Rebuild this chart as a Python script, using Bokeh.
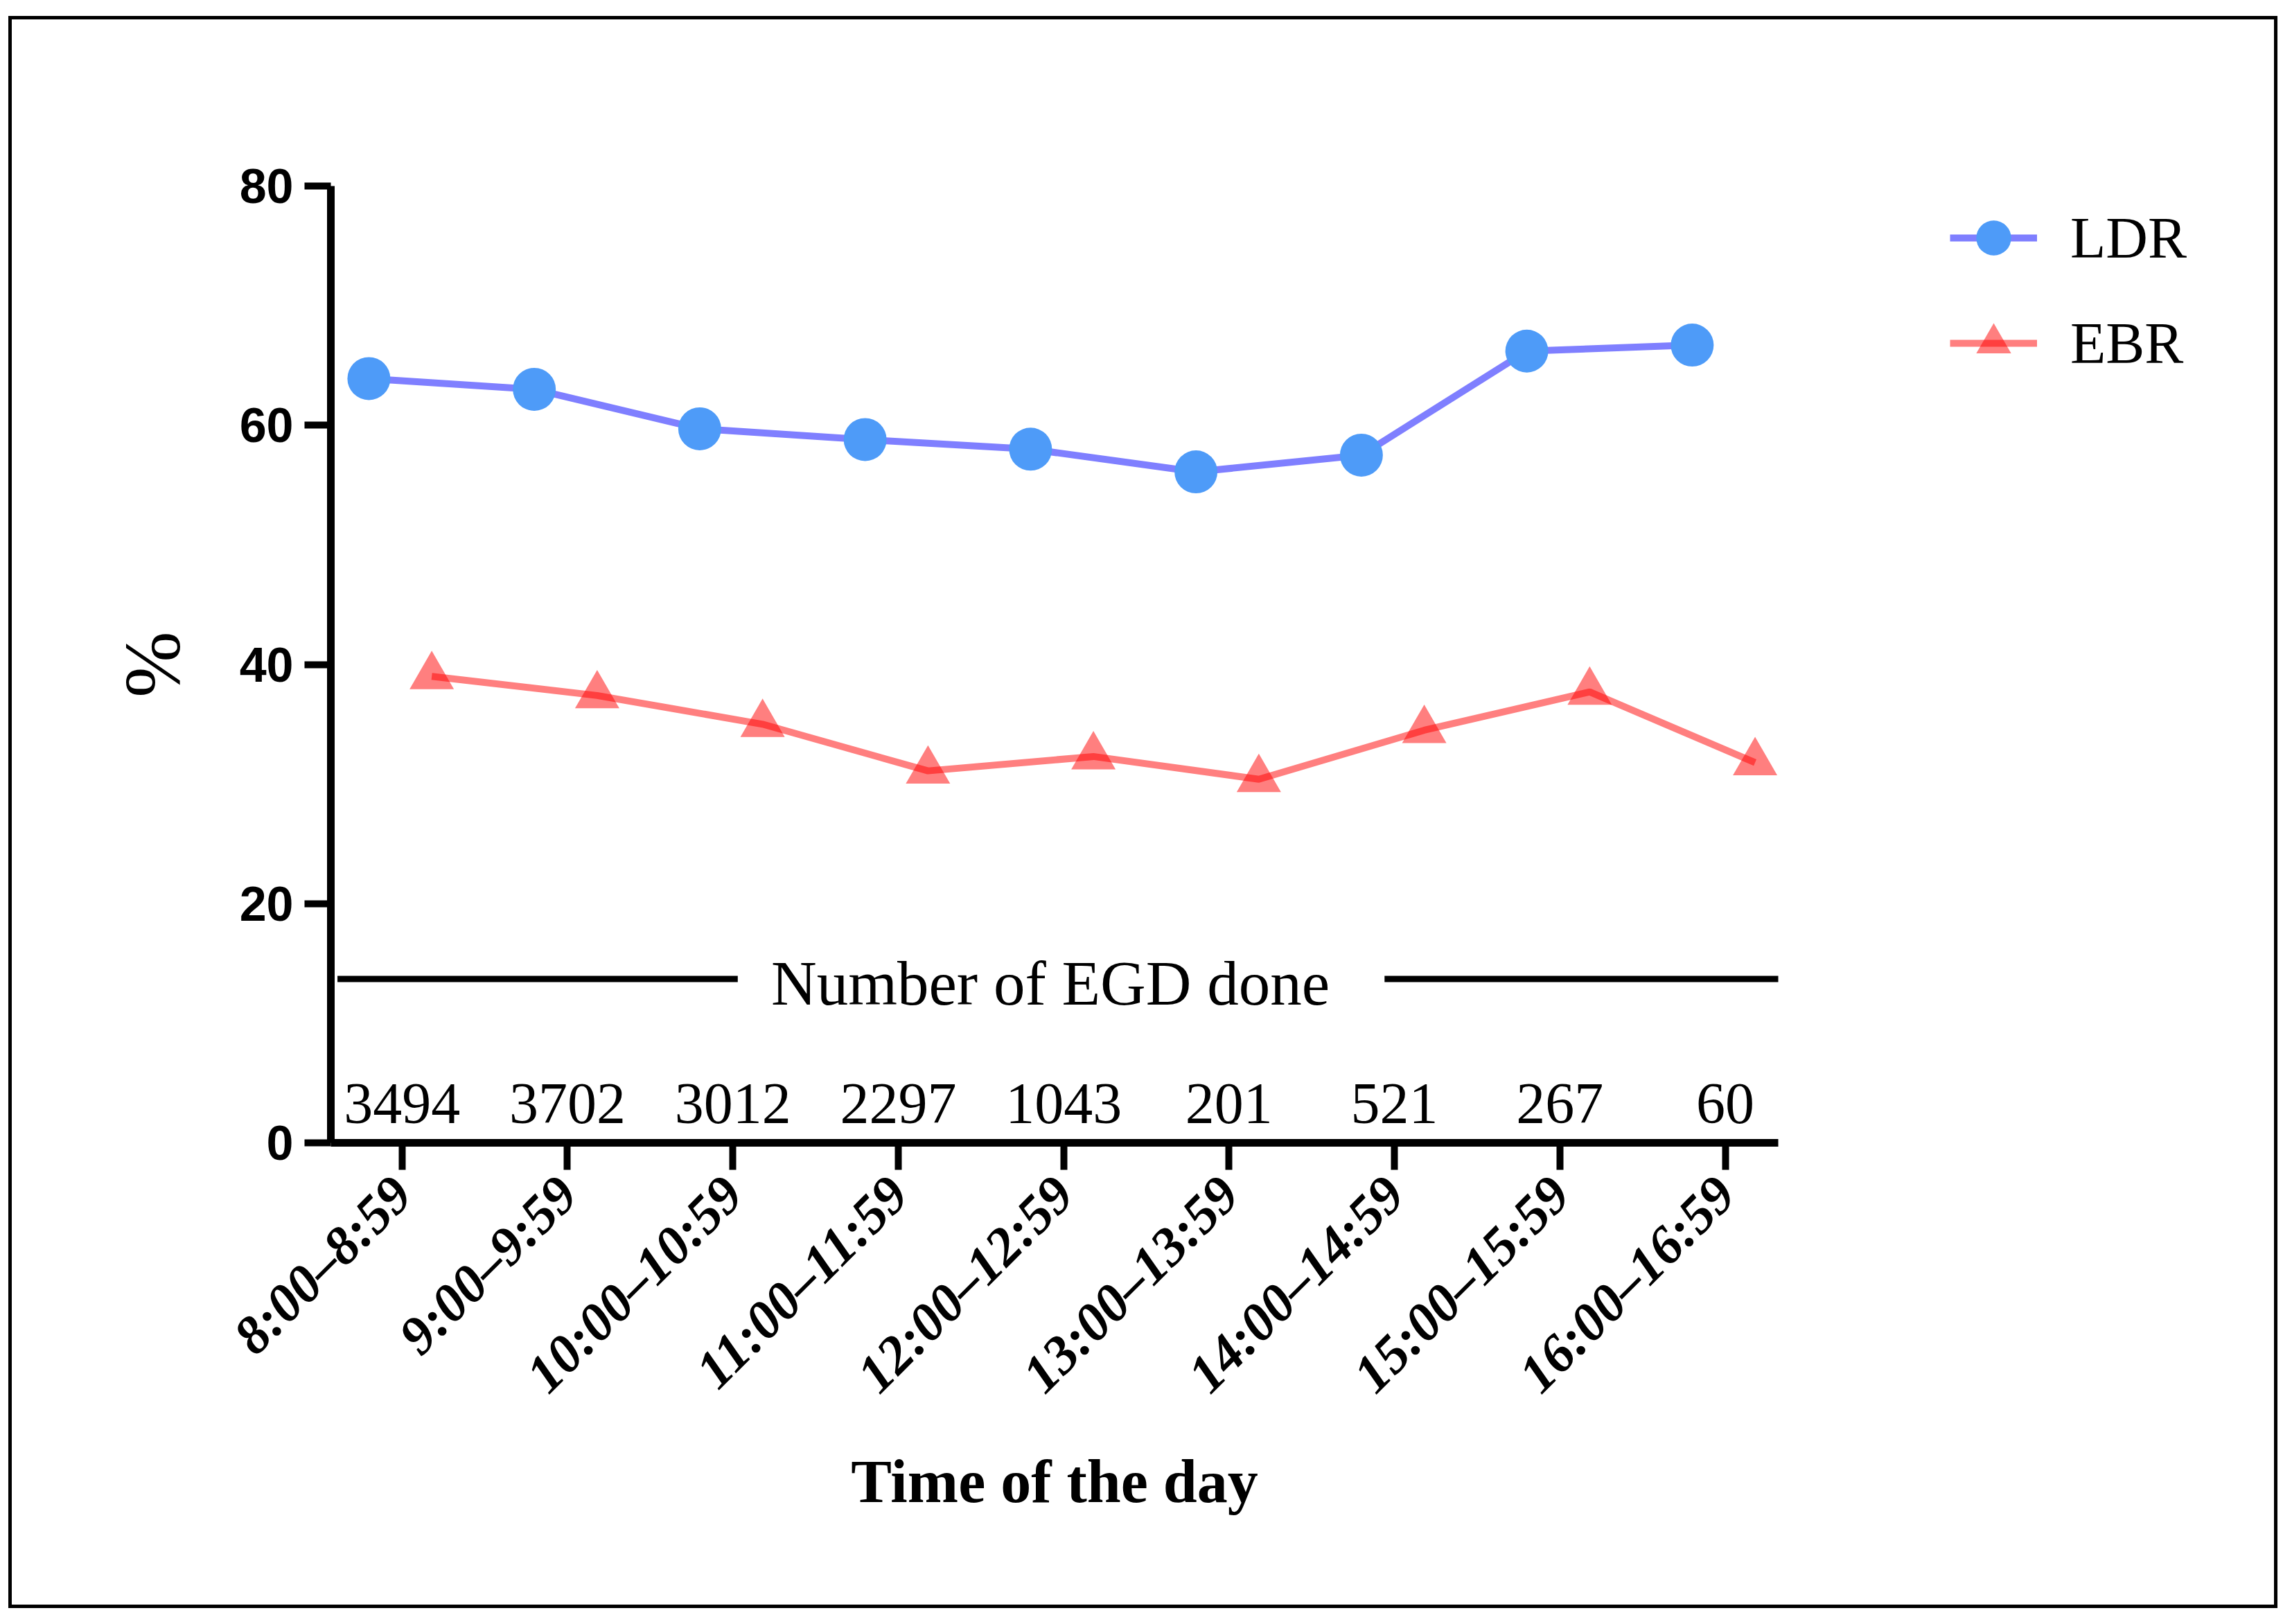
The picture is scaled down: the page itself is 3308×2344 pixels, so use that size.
import math
from bokeh.plotting import figure
from bokeh.models import (ColumnDataSource, Range1d, FixedTicker, Legend, LegendItem,
                          LabelSet, Label)
from bokeh.transform import dodge
from bokeh.core.properties import value
from bokeh.embed import file_html
from bokeh.resources import INLINE

# ---- data ----
time_slots = ["8:00\u20138:59", "9:00\u20139:59", "10:00\u201310:59", "11:00\u201311:59",
              "12:00\u201312:59", "13:00\u201313:59", "14:00\u201314:59", "15:00\u201315:59",
              "16:00\u201316:59"]
ldr = [63.9, 63.0, 59.7, 58.8, 58.0, 56.1, 57.5, 66.2, 66.7]
ebr = [39.0, 37.4, 35.0, 31.1, 32.3, 30.4, 34.5, 37.7, 31.8]
egd_counts = [3494, 3702, 3012, 2297, 1043, 201, 521, 267, 60]
y_ticks = [0, 20, 40, 60, 80]

idx = list(range(len(time_slots)))
src = ColumnDataSource(dict(x=idx, ldr=ldr, ebr=ebr,
                            n=[str(c) for c in egd_counts],
                            ny=[3.3] * len(idx)))

W, H = 3265, 2288
FL, FR, FT, FB = 460, 2587, 240, 1621   # plotting-area edges in canvas pixels
p = figure(width=W, height=H, output_backend="svg", toolbar_location=None,
           x_range=Range1d(-0.43, 8.32), y_range=Range1d(0, 80),
           min_border_left=FL, min_border_right=W - FR,
           min_border_top=FT, min_border_bottom=H - FB,
           background_fill_color="white", border_fill_color="white",
           styles={"margin-left": "17px", "margin-top": "28px",
                   "outline": "5px solid black", "outline-offset": "0px"})
p.outline_line_color = None
p.grid.visible = False

# ---- series ----
l1 = p.line(dodge("x", -0.2), "ldr", source=src, line_color="#7F7FFF", line_width=10)
s1 = p.scatter(dodge("x", -0.2), "ldr", source=src, marker="circle", size=62,
               fill_color="#4E9BF8", line_color=None)
l2 = p.line(dodge("x", 0.18), "ebr", source=src, line_color="red", line_alpha=0.5,
            line_width=10)
s2 = p.scatter(dodge("x", 0.18), "ebr", source=src, marker="triangle", size=64,
               fill_color="red", fill_alpha=0.5, line_color=None)

# ---- "Number of EGD done" annotation ----
p.segment(x0=[-0.39, 5.94], y0=[13.7, 13.7], x1=[2.03, 8.35], y1=[13.7, 13.7],
          line_color="black", line_width=9)
p.add_layout(Label(x=3.92, y=13.3, text="Number of EGD done", text_align="center",
                   text_baseline="middle", text_font="Liberation Serif",
                   text_font_size="91px", text_color="black"))
p.add_layout(LabelSet(x="x", y="ny", text="n", source=src, text_align="center",
                      text_baseline="middle", text_font=value("Liberation Serif"),
                      text_font_size="84px", text_color="black"))

# ---- axes ----
xa = p.xaxis[0]
xa.ticker = FixedTicker(ticks=idx)
xa.major_label_overrides = {i: t for i, t in zip(idx, time_slots)}
xa.major_label_orientation = math.pi / 4
xa.major_label_text_font = "Liberation Serif"
xa.major_label_text_font_style = "bold italic"
xa.major_label_text_font_size = "78px"
xa.major_label_text_color = "black"
xa.major_label_standoff = 22
xa.axis_line_width = 11
xa.major_tick_line_width = 10
xa.major_tick_out = 39
xa.major_tick_in = 0
xa.minor_tick_line_color = None
xa.axis_label = "Time of the day"
xa.axis_label_text_font = "Liberation Serif"
xa.axis_label_text_font_style = "bold"
xa.axis_label_text_font_size = "88px"
xa.axis_label_text_color = "black"
xa.axis_label_standoff = 30

ya = p.yaxis[0]
ya.ticker = FixedTicker(ticks=y_ticks)
ya.major_label_text_font = "Liberation Sans"
ya.major_label_text_font_style = "bold"
ya.major_label_text_font_size = "70px"
ya.major_label_text_color = "black"
ya.major_label_standoff = 16
ya.axis_line_width = 11
ya.major_tick_line_width = 10
ya.major_tick_out = 38
ya.major_tick_in = 0
ya.minor_tick_line_color = None
ya.axis_label = "%"
ya.axis_label_text_font = "Liberation Serif"
ya.axis_label_text_font_style = "normal"
ya.axis_label_text_font_size = "115px"
ya.axis_label_text_color = "black"
ya.axis_label_standoff = 60

# ---- legend (right of the plotting area) ----
legend = Legend(items=[LegendItem(label="LDR", renderers=[l1, s1]),
                       LegendItem(label="EBR", renderers=[l2, s2])],
                location=(248, 1084), orientation="vertical",
                glyph_width=126, glyph_height=140, spacing=12, padding=0, margin=0,
                label_standoff=48, label_text_font="Liberation Serif",
                label_text_font_size="84px", label_text_color="black",
                border_line_color=None, background_fill_alpha=0)
p.add_layout(legend, "right")

open("out.html", "w").write(file_html(p, INLINE))
